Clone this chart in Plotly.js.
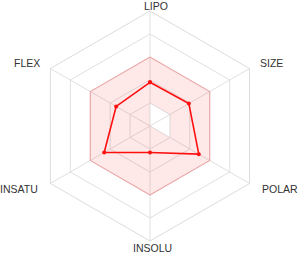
<!DOCTYPE html>
<html>
<head>
<meta charset="utf-8">
<script src="https://cdn.plot.ly/plotly-3.0.1.min.js"></script>
<style>html,body{margin:0;padding:0;background:#fff;}#chart{width:298px;height:255px;}</style>
</head>
<body>
<div id="chart"></div>
<script>
var categories = ['LIPO', 'SIZE', 'POLAR', 'INSOLU', 'INSATU', 'FLEX'];
var values = [1.9, 1.95, 2.45, 1.15, 2.3, 1.7];
var upperLimit = [3, 3, 3, 3, 3, 3];
var lowerLimit = [1, 1, 1, 0, 0, 0];

var W = 298, H = 255;
var M = {l: 35, r: 33, t: 11, b: 14};
var plotW = W - M.l - M.r, plotH = H - M.t - M.b;

// band: outer loop then inner loop reversed (hole)
var bandTheta = categories.concat([categories[0]]);
var bandR = upperLimit.concat([upperLimit[0]]);
var innerTheta = [categories[0]].concat(categories.slice(1).reverse()).concat([categories[0]]);
var innerR = [lowerLimit[0]].concat(lowerLimit.slice(1).reverse()).concat([lowerLimit[0]]);

var traces = [
  {
    type: 'scatterpolar', mode: 'lines',
    theta: bandTheta.concat(innerTheta),
    r: bandR.concat(innerR),
    fill: 'toself', fillcolor: 'rgba(255,0,0,0.09)',
    line: {width: 0, color: 'rgba(0,0,0,0)'},
    hoverinfo: 'skip', showlegend: false
  },
  {
    type: 'scatterpolar', mode: 'lines',
    theta: bandTheta, r: bandR,
    line: {width: 1.2, color: 'rgba(255,0,0,0.22)'},
    hoverinfo: 'skip', showlegend: false
  },
  {
    type: 'scatterpolar', mode: 'lines+markers',
    theta: categories.concat([categories[0]]),
    r: values.concat([values[0]]),
    line: {width: 1.6, color: '#ff1010'},
    marker: {size: 4, color: '#ff1010'},
    showlegend: false
  }
];

// axis label placement (pixels) -> paper coords
var labelPos = [
  {x: 156, y: 5.5, xa: 'center'},
  {x: 259, y: 63, xa: 'left'},
  {x: 261, y: 188.5, xa: 'left'},
  {x: 152, y: 248.5, xa: 'center'},
  {x: 39, y: 188.5, xa: 'right'},
  {x: 41, y: 63, xa: 'right'}
];
var annotations = categories.map(function (c, i) {
  var p = labelPos[i];
  return {
    text: c, showarrow: false, xref: 'paper', yref: 'paper',
    x: (p.x - M.l) / plotW, y: 1 - (p.y - M.t) / plotH,
    xanchor: p.xa, yanchor: 'middle', borderpad: 0,
    font: {size: 10.5, color: '#333', family: 'Liberation Sans, Arial, sans-serif'}
  };
});

var layout = {
  width: W, height: H,
  margin: M,
  paper_bgcolor: '#fff',
  showlegend: false,
  font: {family: 'Liberation Sans, Arial, sans-serif', size: 10, color: '#333'},
  annotations: annotations,
  polar: {
    gridshape: 'linear',
    bgcolor: 'rgba(0,0,0,0)',
    radialaxis: {
      range: [0, 5], dtick: 1, tick0: 0,
      showticklabels: false, ticks: '', showline: false,
      gridcolor: '#e0e0e0', gridwidth: 1
    },
    angularaxis: {
      direction: 'clockwise', rotation: 90,
      categoryorder: 'array', categoryarray: categories,
      ticks: '', showline: true, linecolor: '#dcdcdc', linewidth: 1,
      gridcolor: '#e0e0e0', showticklabels: false
    }
  }
};

Plotly.newPlot('chart', traces, layout, {displayModeBar: false, staticPlot: true});
</script>
</body>
</html>
